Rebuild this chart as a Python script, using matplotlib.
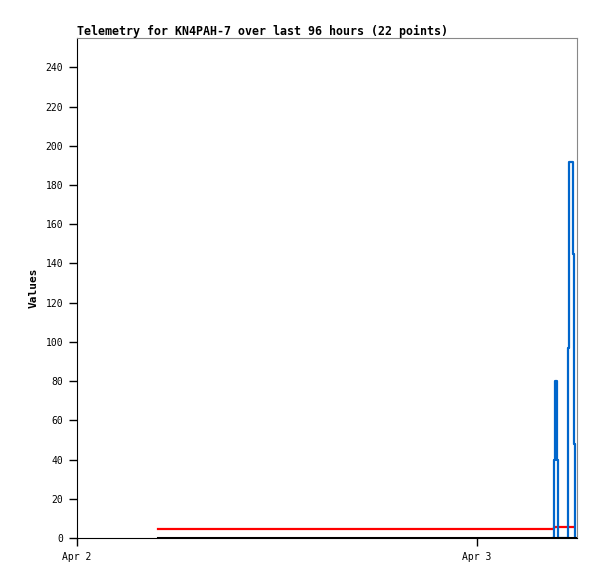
import matplotlib
matplotlib.use("Agg")
import matplotlib.pyplot as plt

# hours since Apr 2 00:00
blue_t = [28.55, 28.608, 28.668, 28.812, 28.872, 29.47, 29.53, 29.75, 29.81, 29.87]
blue_v = [0, 40, 80, 40, 0, 97, 192, 145, 48, 0]
red_t = [4.86, 28.6, 29.82]
red_v = [4.6, 5.7, 5.7]
black_t = [4.86, 29.95]
black_v = [0, 0]

xticks = [0, 24]
xlabels = ["Apr 2", "Apr 3"]
yticks = list(range(0, 241, 20))

mono = "DejaVu Sans Mono"

fig = plt.figure(figsize=(5.97, 5.79), dpi=100)
ax = fig.add_axes([77/597, 41/579, 500/597, 500/579])

ax.plot(red_t, red_v, drawstyle="steps-post", color="#ff0000", lw=1.6)
ax.plot(blue_t, blue_v, drawstyle="steps-post", color="#0066cc", lw=1.6)
ax.plot(black_t, black_v, color="black", lw=2.2)

ax.set_xlim(0, 30)
ax.set_ylim(0, 255)
ax.set_xticks(xticks)
ax.set_xticklabels(xlabels, family=mono, fontsize=7)
ax.set_yticks(yticks)
ax.set_yticklabels([str(v) for v in yticks], family=mono, fontsize=7)
ax.tick_params(direction="out", length=6, width=1, pad=4)

for s in ["top", "right"]:
    ax.spines[s].set_color("#888888")
for s in ["left", "bottom"]:
    ax.spines[s].set_color("black")

ax.set_title("Telemetry for KN4PAH-7 over last 96 hours (22 points)",
             loc="left", family=mono, fontsize=8.4, fontweight="bold", pad=2)
ax.set_ylabel("Values", family=mono, fontsize=8, fontweight="bold", labelpad=5)

fig.savefig("out.png", dpi=100)
